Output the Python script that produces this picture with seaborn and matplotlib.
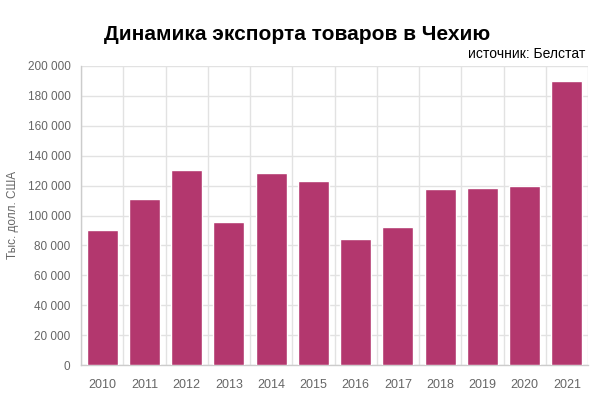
import matplotlib
matplotlib.use('Agg')
import matplotlib.pyplot as plt
import seaborn as sns
import pandas as pd

# Данные
years = ["2010", "2011", "2012", "2013", "2014", "2015",
         "2016", "2017", "2018", "2019", "2020", "2021"]
export = [90300, 111000, 130400, 95800, 128400, 123100,
          84300, 92300, 117700, 118300, 119600, 189800]

BAR_COLOR = "#b3376e"

sns.set_theme(style="white")
plt.rcParams['font.family'] = ['Liberation Sans', 'DejaVu Sans']

df = pd.DataFrame({"year": years, "value": export})

fig = plt.figure(figsize=(5.94, 3.96), dpi=100)
ax = fig.add_axes([81 / 594, 1 - 365 / 396, (588 - 81) / 594, (365 - 66) / 396])

sns.barplot(data=df, x="year", y="value", color=BAR_COLOR, saturation=1,
            width=0.73, ax=ax, zorder=3)

ax.set_ylim(0, 200000)
ax.set_xlim(-0.5, len(years) - 0.5)
ax.set_yticks(range(0, 200001, 20000))
ax.yaxis.set_major_formatter(plt.FuncFormatter(lambda x, _: f"{int(x):,}".replace(",", " ")))

# сетка по границам категорий
ax.set_xticks([i - 0.5 for i in range(len(years) + 1)], minor=True)
ax.tick_params(axis="x", which="major", length=0, pad=10, labelsize=9, labelcolor="#666666")
ax.tick_params(axis="x", which="minor", length=7, color="#cccccc", width=1)
ax.tick_params(axis="y", which="major", length=6.5, color="#cccccc", width=1, pad=1,
               labelsize=8.5, labelcolor="#666666")
ax.grid(True, axis="y", which="major", color="#e2e2e2", linewidth=1, zorder=0)
ax.grid(True, axis="x", which="minor", color="#e2e2e2", linewidth=1, zorder=0)
ax.set_axisbelow(True)

for s in ["top", "right"]:
    ax.spines[s].set_visible(False)
for s in ["left", "bottom"]:
    ax.spines[s].set_color("#cccccc")
    ax.spines[s].set_linewidth(1)

ax.set_xlabel("")
ax.set_ylabel("")
fig.text(13 / 594, 1 - 215 / 396, "Тыс. долл. США", rotation=90,
         ha="center", va="center", fontsize=8.5, color="#666666")

fig.text(0.5, 1 - 34 / 396, "Динамика экспорта товаров в Чехию",
         ha="center", va="center", fontsize=15, fontweight="bold", color="black")
fig.text(585 / 594, 1 - 54 / 396, "источник: Белстат",
         ha="right", va="center", fontsize=10, color="black")

plt.savefig("out.png", dpi=100)
plt.close()
